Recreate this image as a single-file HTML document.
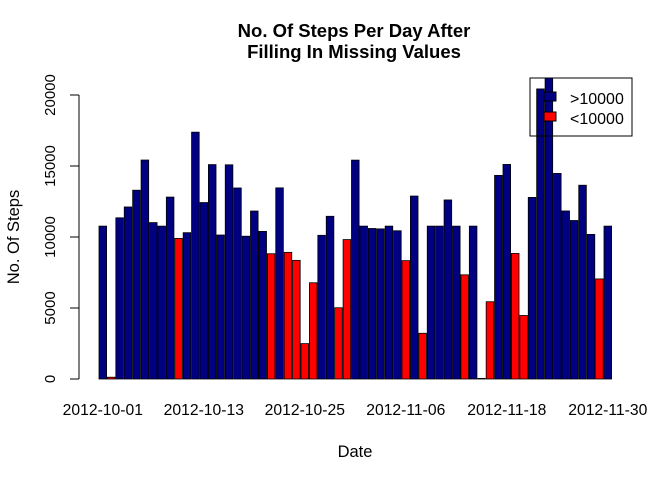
<!DOCTYPE html>
<html><head><meta charset="utf-8"><style>
body{margin:0;background:#fff}
text{font-family:"Liberation Sans",Arial,sans-serif}
</style></head><body>
<svg id="chart" width="672" height="480" xmlns="http://www.w3.org/2000/svg">
<text x="354" y="37" text-anchor="middle" font-size="18.5" font-weight="bold">No. Of Steps Per Day After</text>
<text x="354" y="58" text-anchor="middle" font-size="18.5" font-weight="bold">Filling In Missing Values</text>
<text transform="translate(19,237) rotate(-90)" text-anchor="middle" font-size="16.5">No. Of Steps</text>
<text x="355" y="457" text-anchor="middle" font-size="16.5">Date</text>
<g id="bars"></g>
<g id="yaxis"></g>
<g id="xlabels"></g>
<g>
<rect x="530" y="78" width="102" height="58" fill="none" stroke="#000" stroke-width="1"/>
<rect x="544" y="92" width="12" height="9" fill="#000080" stroke="#000"/>
<text x="570" y="104" font-size="16">&gt;10000</text>
<rect x="544" y="112" width="12" height="9" fill="#ff0000" stroke="#000"/>
<text x="570" y="124" font-size="16">&lt;10000</text>
</g>
</svg>
<script>
const dates=["2012-10-01","2012-10-02","2012-10-03","2012-10-04","2012-10-05","2012-10-06","2012-10-07","2012-10-08","2012-10-09","2012-10-10","2012-10-11","2012-10-12","2012-10-13","2012-10-14","2012-10-15","2012-10-16","2012-10-17","2012-10-18","2012-10-19","2012-10-20","2012-10-21","2012-10-22","2012-10-23","2012-10-24","2012-10-25","2012-10-26","2012-10-27","2012-10-28","2012-10-29","2012-10-30","2012-10-31","2012-11-01","2012-11-02","2012-11-03","2012-11-04","2012-11-05","2012-11-06","2012-11-07","2012-11-08","2012-11-09","2012-11-10","2012-11-11","2012-11-12","2012-11-13","2012-11-14","2012-11-15","2012-11-16","2012-11-17","2012-11-18","2012-11-19","2012-11-20","2012-11-21","2012-11-22","2012-11-23","2012-11-24","2012-11-25","2012-11-26","2012-11-27","2012-11-28","2012-11-29","2012-11-30"];
const steps=[10766,126,11352,12116,13294,15420,11015,10766,12811,9900,10304,17382,12426,15098,10139,15084,13452,10056,11829,10395,8821,13460,8918,8355,2492,6778,10119,11458,5018,9819,15414,10766,10600,10571,10766,10439,8334,12883,3219,10766,10766,12608,10765,7336,10766,41,5441,14339,15110,8841,4472,12787,20427,21194,14478,11834,11162,13646,10183,7047,10766];
const yTicks=[0,5000,10000,15000,20000];
const xTickLabels=["2012-10-01","2012-10-13","2012-10-25","2012-11-06","2012-11-18","2012-11-30"];
const NS="http://www.w3.org/2000/svg";
const y0=379,y1=95,pitch=(604-99)/60,bw=7.6;
function ys(v){return y0-(v/20000)*(y0-y1);}
function xs(i){return 99+i*pitch;}
const bars=document.getElementById('bars');
steps.forEach((v,i)=>{
  const r=document.createElementNS(NS,'rect');
  
  
  const top=Math.max(ys(v),78);
  r.setAttribute('x',xs(i));r.setAttribute('y',top);
  r.setAttribute('width',bw);r.setAttribute('height',Math.max(y0-top,0.3));
  r.setAttribute('fill',v>10000?'#000080':'#ff0000');
  r.setAttribute('stroke','#000');r.setAttribute('stroke-width','0.8');
  bars.appendChild(r);
});
const ya=document.getElementById('yaxis');
const ax=document.createElementNS(NS,'line');


ax.setAttribute('x1',79);ax.setAttribute('x2',79);ax.setAttribute('y1',ys(0));ax.setAttribute('y2',ys(20000));ax.setAttribute('stroke','#000');
ya.appendChild(ax);
yTicks.forEach(t=>{
  const l=document.createElementNS(NS,'line');
  
  
  l.setAttribute('x1',70);l.setAttribute('x2',79);l.setAttribute('y1',ys(t));l.setAttribute('y2',ys(t));l.setAttribute('stroke','#000');
  ya.appendChild(l);
  const tx=document.createElementNS(NS,'text');
  
  
  tx.setAttribute('transform','translate(55,'+ys(t)+') rotate(-90)');
  tx.setAttribute('text-anchor','middle');tx.setAttribute('font-size','15');
  tx.textContent=t;ya.appendChild(tx);
});
const xl=document.getElementById('xlabels');
xTickLabels.forEach(d=>{
  const i=dates.indexOf(d);
  const tx=document.createElementNS(NS,'text');
  
  
  tx.setAttribute('x',xs(i)+bw/2);tx.setAttribute('y',415);
  tx.setAttribute('text-anchor','middle');tx.setAttribute('font-size','15.7');
  tx.textContent=d;xl.appendChild(tx);
});
</script>
</body></html>
